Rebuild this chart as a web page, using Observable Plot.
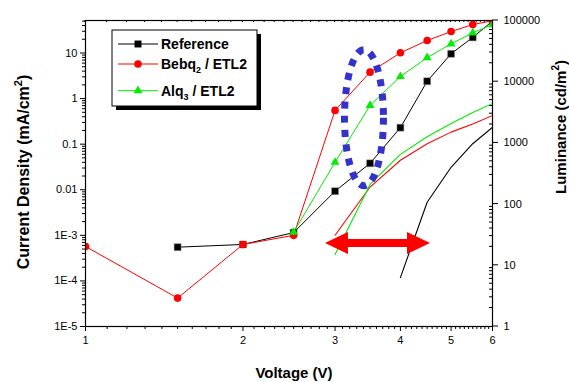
<!DOCTYPE html>
<html><head><meta charset="utf-8">
<script src="https://cdn.jsdelivr.net/npm/d3@7"></script>
<script src="https://cdn.jsdelivr.net/npm/@observablehq/plot@0.6"></script>
<style>
body{margin:0;background:#fff;}
#wrap{position:relative;width:569px;height:382px;}
</style></head><body><div id="wrap"></div>
<script>
// ---- data ----
const refV  = [1.5, 2, 2.5, 3, 3.5, 4, 4.5, 5, 5.5, 6];
const refJ  = [5.5e-4, 6.3e-4, 1.15e-3, 9.3e-3, 0.038, 0.23, 2.4, 9.6, 22, 50];
const bebqV = [1, 1.5, 2, 2.5, 3, 3.5, 4, 4.5, 5, 5.5, 6];
const bebqJ = [5.7e-4, 4.2e-5, 6.3e-4, 1.0e-3, 0.55, 3.8, 10.1, 18.8, 29.6, 42, 51];
const alqV  = [2.5, 3, 3.5, 4, 4.5, 5, 5.5, 6];
const alqJ  = [1.17e-3, 0.04, 0.71, 3.05, 7.9, 15.9, 27.7, 42];

const refLV  = [4, 4.5, 5, 5.5, 6];
const refL   = [6.3, 107, 400, 970, 1800];
const bebqLV = [3, 3.5, 4, 4.5, 5, 5.5, 6];
const bebqL  = [31, 190, 520, 970, 1500, 2040, 2800];
const alqLV  = [3, 3.5, 4, 4.5, 5, 5.5, 6];
const alqL   = [15, 210, 650, 1260, 2080, 3150, 4400];

const leftTicks   = [1e-5, 1e-4, 1e-3, 0.01, 0.1, 1, 10];
const leftLabels  = ["1E-5", "1E-4", "1E-3", "0.01", "0.1", "1", "10"];
const rightTicks  = [1, 10, 100, 1000, 10000, 100000];
const rightLabels = ["1", "10", "100", "1000", "10000", "100000"];
const xTicks  = [1, 2, 3, 4, 5, 6];
const xLabels = ["1", "2", "3", "4", "5", "6"];

// annotations (data coordinates)
const arrowV = [2.876, 4.567];
const arrowJ = 6.65e-4;
const ellipseV = 3.415;
const ellipseJ = 0.37;

// ---- scales mapping ----
const FONT = '"Liberation Sans", Arial, Helvetica, sans-serif';
const yTopLog = 1.713;
const yMax = Math.pow(10, yTopLog);
const k = (yTopLog + 5) / 5;
const lumToY = L => Math.pow(10, -5 + Math.log10(L) * k);

const mk = (V, Y, name) => V.map((v, i) => ({v, y: Y[i], name}));
const refCur = mk(refV, refJ, "ref"), bebqCur = mk(bebqV, bebqJ, "bebq"), alqCur = mk(alqV, alqJ, "alq");
const refLum = mk(refLV, refL.map(lumToY), "ref"), bebqLum = mk(bebqLV, bebqL.map(lumToY), "bebq"), alqLum = mk(alqLV, alqL.map(lumToY), "alq");
const rightTickData = rightTicks.map((L, i) => ({y: lumToY(L), label: rightLabels[i]}));

// minor ticks
const minorLeft = [];
for (let e = -5; e <= 1; e++) for (let m = 2; m <= 9; m++) { const v = m * Math.pow(10, e); if (v <= yMax) minorLeft.push(v); }
const minorRight = [];
for (let e = 0; e <= 4; e++) for (let m = 2; m <= 9; m++) minorRight.push(lumToY(m * Math.pow(10, e)));
const minorX = [];
for (let a = 1; a < 6; a++) for (let b = 1; b <= 9; b++) minorX.push(a + b / 10);

const RED = "#ff0000", GREEN = "#00ee00";

function ticksMark() {
  return (index, scales, values, dims) => {
    const g = d3.create("svg:g").attr("stroke", "black").attr("stroke-width", 1);
    const xr = dims.width - dims.marginRight, yt = dims.marginTop;
    for (const v of minorRight) { const y = scales.y(v); g.append("line").attr("x1", xr - 3).attr("x2", xr).attr("y1", y).attr("y2", y); }
    for (const d of rightTickData) { const y = scales.y(d.y); g.append("line").attr("x1", xr).attr("x2", xr + 6).attr("y1", y).attr("y2", y); }
    for (const v of minorX.concat(xTicks)) { const x = scales.x(v); g.append("line").attr("x1", x).attr("x2", x).attr("y1", yt).attr("y2", yt + 2); }
    return g.node();
  };
}
function ellipseMark() {
  return (index, scales) => d3.create("svg:ellipse")
    .attr("cx", scales.x(ellipseV)).attr("cy", scales.y(ellipseJ))
    .attr("rx", 19.5).attr("ry", 68)
    .attr("fill", "none").attr("stroke", "#3333cc").attr("stroke-width", 7)
    .attr("stroke-dasharray", "7 7.3").node();
}
function arrowMark() {
  return (index, scales) => {
    const x1 = scales.x(arrowV[0]), x2 = scales.x(arrowV[1]), y0 = scales.y(arrowJ);
    const hl = 23, hw = 11, sw = 4;
    const p = `M${x1},${y0} L${x1 + hl},${y0 - hw} L${x1 + hl},${y0 - sw} L${x2 - hl},${y0 - sw} L${x2 - hl},${y0 - hw} L${x2},${y0} L${x2 - hl},${y0 + hw} L${x2 - hl},${y0 + sw} L${x1 + hl},${y0 + sw} L${x1 + hl},${y0 + hw} Z`;
    return d3.create("svg:path").attr("d", p).attr("fill", RED).node();
  };
}

const svg = Plot.plot({
  width: 569, height: 382,
  marginLeft: 85, marginRight: 77, marginTop: 20, marginBottom: 56,
  style: {fontFamily: FONT, fontSize: "11px", color: "black", background: "white"},
  x: {type: "log", domain: [1, 6]},
  y: {type: "log", domain: [1e-5, yMax]},
  marks: [
    Plot.axisY({anchor: "left", ticks: leftTicks, tickFormat: d => leftLabels[Math.round(Math.log10(d)) + 5], tickSize: 5, tickPadding: 3, label: null, fontSize: 11}),
    Plot.axisY({anchor: "left", ticks: minorLeft, tickFormat: () => "", tickSize: 3, label: null}),
    Plot.text(rightTickData, {y: "y", text: "label", frameAnchor: "right", dx: 11, textAnchor: "start", fontSize: 11, fill: "black"}),
    Plot.axisX({anchor: "bottom", ticks: xTicks, tickFormat: d => xLabels[Math.round(d) - 1], tickSize: 5, tickPadding: 5, label: null, fontSize: 11}),
    Plot.axisX({anchor: "bottom", ticks: minorX, tickFormat: () => "", tickSize: 3, label: null}),
    ticksMark(),
    Plot.line(refLum, {x: "v", y: "y", stroke: "black", strokeWidth: 1.1, clip: true}),
    Plot.line(bebqLum, {x: "v", y: "y", stroke: RED, strokeWidth: 1.1, clip: true}),
    Plot.line(alqLum, {x: "v", y: "y", stroke: GREEN, strokeWidth: 1.1, clip: true}),
    Plot.line(refCur, {x: "v", y: "y", stroke: "black", strokeWidth: 1, clip: true}),
    Plot.line(bebqCur, {x: "v", y: "y", stroke: RED, strokeWidth: 1, clip: true}),
    Plot.line(alqCur, {x: "v", y: "y", stroke: GREEN, strokeWidth: 1, clip: true}),
    Plot.dot(refCur, {x: "v", y: "y", symbol: "square", fill: "black", stroke: "#888", strokeWidth: 0.5, r: 3.9, clip: true}),
    Plot.dot(bebqCur, {x: "v", y: "y", symbol: "circle", fill: RED, r: 3.8, clip: true}),
    Plot.dot(alqCur, {x: "v", y: "y", symbol: "triangle", fill: GREEN, r: 3.3, clip: true}),
    ellipseMark(),
    arrowMark(),
    Plot.frame({stroke: "black", strokeWidth: 1.2})
  ]
});
document.getElementById("wrap").appendChild(svg);

const s = d3.select(svg);
// axis titles
const yl = s.append("text").attr("transform", "translate(29,172) rotate(-90)")
  .attr("text-anchor", "middle").attr("font-family", FONT).attr("font-weight", "bold").attr("font-size", 16).attr("fill", "black");
yl.append("tspan").text("Current Density (mA/cm");
yl.append("tspan").attr("dy", -7).attr("font-size", 11).text("2");
yl.append("tspan").attr("dy", 7).text(")");

const rl = s.append("text").attr("transform", "translate(566,127) rotate(-90)")
  .attr("text-anchor", "middle").attr("font-family", FONT).attr("font-weight", "bold").attr("font-size", 15).attr("fill", "black");
rl.append("tspan").text("Luminance (cd/m");
rl.append("tspan").attr("dy", -7).attr("font-size", 10).text("2");
rl.append("tspan").attr("dy", 7).text(")");

s.append("text").attr("x", 294).attr("y", 378).attr("text-anchor", "middle")
  .attr("font-family", FONT).attr("font-weight", "bold").attr("font-size", 15).attr("fill", "black").text("Voltage (V)");

// legend
const lg = s.append("g");
lg.append("rect").attr("x", 116).attr("y", 34).attr("width", 145).attr("height", 76).attr("fill", "black");
lg.append("rect").attr("x", 112).attr("y", 30).attr("width", 145).attr("height", 76).attr("fill", "white").attr("stroke", "black").attr("stroke-width", 1);
const entries = [
  {y: 44, color: "black", sym: d3.symbolSquare, size: 48, name: "Reference", sub: null, rest: ""},
  {y: 64, color: RED, sym: d3.symbolCircle, size: 45, name: "Bebq", sub: "2", rest: " / ETL2"},
  {y: 90.7, color: GREEN, sym: d3.symbolTriangle, size: 34, name: "Alq", sub: "3", rest: " / ETL2"}
];
for (const e of entries) {
  lg.append("line").attr("x1", 118).attr("x2", 158).attr("y1", e.y).attr("y2", e.y).attr("stroke", e.color).attr("stroke-width", 1);
  lg.append("path").attr("d", d3.symbol(e.sym, e.size)()).attr("transform", `translate(138,${e.y})`).attr("fill", e.color);
  const t = lg.append("text").attr("x", 161).attr("y", e.y + 5).attr("text-anchor", "start").attr("font-family", FONT).attr("font-weight", "bold").attr("font-size", 14).attr("fill", "black");
  t.append("tspan").text(e.name);
  if (e.sub) {
    t.append("tspan").attr("dy", 4).attr("font-size", 9).text(e.sub);
    t.append("tspan").attr("dy", -4).text(e.rest);
  }
}
</script>
</body></html>
